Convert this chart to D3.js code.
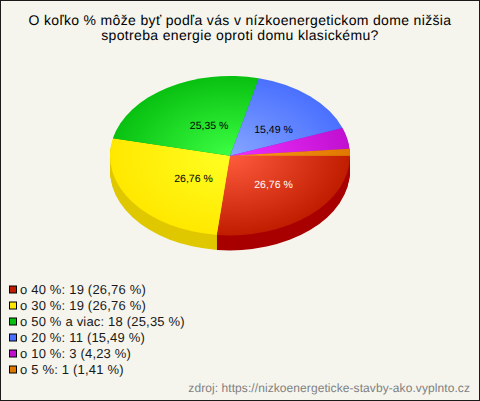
<!DOCTYPE html>
<html><head><meta charset="utf-8">
<script src="https://cdn.jsdelivr.net/npm/d3@7/dist/d3.min.js"></script>
<style>html,body{margin:0;padding:0;background:#f5f5ee}svg{display:block}text{font-family:"Liberation Sans",Arial,sans-serif;text-rendering:geometricPrecision}</style>
</head><body><svg id="c" width="480" height="401"></svg>
<script>
const categories = ["o 40 %","o 30 %","o 50 % a viac","o 20 %","o 10 %","o 5 %"];
const counts = [19,19,18,11,3,1];
const percents = ["26,76","26,76","25,35","15,49","4,23","1,41"];
const sliceLabelShown = [true,true,true,true,false,false];
const labelColors = ["#ffffff","#000000","#000000","#000000","#000000","#000000"];
const edgeColors = ["#c01c00","#ffe800","#08c010","#4a70ff","#c010d0","#e07800"];
const centerColors = ["#ff5c3e","#ffff22","#3cff44","#86a6ff","#f030ff","#ff9a20"];
const wallColors = ["#a80000","#e0c800","#08a010","#3a58d0","#a010b0","#c06000"];
const titleLines = ["O koľko % môže byť podľa vás v nízkoenergetickom dome nižšia","spotreba energie oproti domu klasickému?"];
const sourceText = "zdroj: https://nizkoenergeticke-stavby-ako.vyplnto.cz";

const W=480,H=401,cx=230,cy=155.7,rx=120,ry=79.7,depth=15;
const svg=d3.select("#c");
svg.append("rect").attr("width",W).attr("height",H).attr("fill","#f5f5ee");
svg.append("rect").attr("x",.5).attr("y",.5).attr("width",W-1).attr("height",H-1).attr("fill","none").attr("stroke","#1a1a1a");

svg.append("g").selectAll("text").data(titleLines).join("text")
 .attr("x",240).attr("y",(d,i)=>25+i*15).attr("text-anchor","middle")
 .attr("font-size",14).attr("letter-spacing",0.34).attr("fill","#000").text(d=>d);

const defs=svg.append("defs");
const r=d3.scaleLinear().domain([0,1]).range([0,rx]);
categories.forEach((c,i)=>{
 const g=defs.append("radialGradient").attr("id","g"+i).attr("gradientUnits","userSpaceOnUse")
  .attr("cx",0).attr("cy",0).attr("r",r(1));
 g.append("stop").attr("offset",0).attr("stop-color",centerColors[i]);
 g.append("stop").attr("offset",1).attr("stop-color",edgeColors[i]);
});
const pie=d3.pie().sort(null).startAngle(Math.PI/2).endAngle(Math.PI*2.5);
const arcs=pie(counts);
const arc=d3.arc().innerRadius(0).outerRadius(r(1));
for(let k=depth;k>=1;k--){
 svg.append("g").attr("transform",`translate(${cx},${cy+k}) scale(1,${ry/rx})`)
  .selectAll("path").data(arcs).join("path").attr("d",arc).attr("fill",(d,i)=>wallColors[i]);
}
svg.append("g").attr("transform",`translate(${cx},${cy}) scale(1,${ry/rx})`)
  .selectAll("path").data(arcs).join("path").attr("d",arc).attr("fill",(d,i)=>`url(#g${i})`);

svg.append("g").selectAll("text").data(arcs.filter((d,i)=>sliceLabelShown[i])).join("text")
 .attr("x",d=>{const a=(d.startAngle+d.endAngle)/2;return cx+54*Math.sin(a)+7.5;})
 .attr("y",d=>{const a=(d.startAngle+d.endAngle)/2;return cy-37*Math.cos(a)+1.5+3.5;})
 .attr("text-anchor","middle").attr("font-size",10.5)
 .attr("fill",d=>labelColors[d.index]).text(d=>percents[d.index]+" %");

const ly=d3.scalePoint().domain(categories).range([289.5,369.5]);
const leg=svg.append("g").selectAll("g").data(categories).join("g");
leg.append("rect").attr("x",9.5).attr("y",c=>ly(c)-3.5).attr("width",7).attr("height",7)
 .attr("fill",(c,i)=>edgeColors[i]).attr("stroke","#000");
leg.append("text").attr("x",20).attr("y",c=>ly(c)+4.5).attr("font-size",13).attr("letter-spacing",0.19).attr("fill","#1a1a1a")
 .text((c,i)=>`${c}: ${counts[i]} (${percents[i]} %)`);

svg.append("text").attr("x",470).attr("y",392).attr("text-anchor","end").attr("font-size",12).attr("letter-spacing",0.08).attr("fill","#808080").text(sourceText);
</script></body></html>
